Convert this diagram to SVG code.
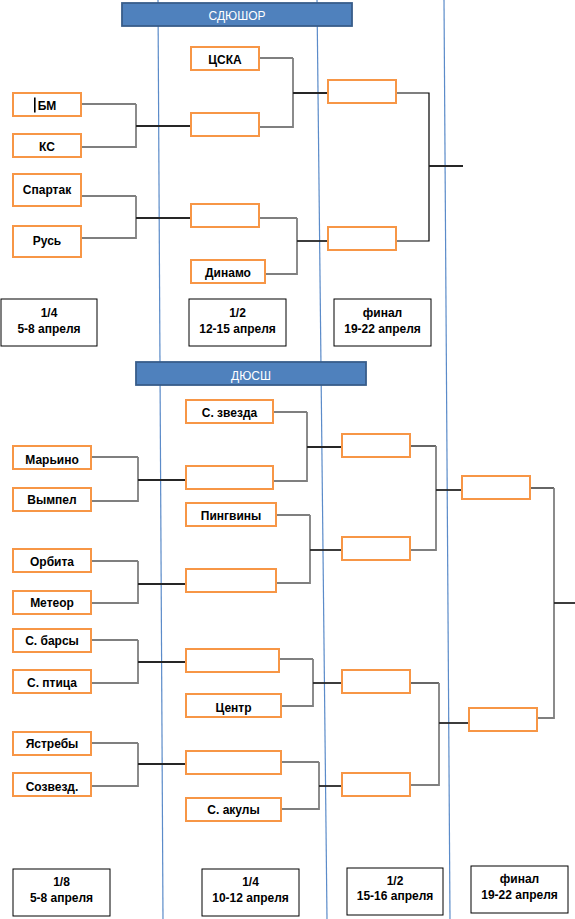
<svg xmlns="http://www.w3.org/2000/svg" width="575" height="919" viewBox="0 0 575 919">
<style>
.bg{fill:#fff}
.guide{stroke:#5b8bc9;stroke-width:1.2;fill:none}
.hdr{fill:#4f81bd;stroke:#385d8a;stroke-width:1.8}
.ht{font-family:"Liberation Sans",Arial,sans-serif;font-size:12px;fill:#fff;text-anchor:middle}
.box{fill:#fff;stroke:#f79646;stroke-width:2}
.lbl{fill:#fff;stroke:#000;stroke-width:1}
.t{font-family:"Liberation Sans",Arial,sans-serif;font-size:12px;font-weight:bold;fill:#000;text-anchor:middle}
.c1{stroke:#000;stroke-width:1.2;fill:none}
.c2{stroke:#7f7f7f;stroke-width:1.8;fill:none}
.c3{stroke:#262626;stroke-width:1.8;fill:none}
</style>
<rect class="bg" x="0" y="0" width="575" height="919"/>
<g id="guides">
<line class="guide" x1="158" y1="0" x2="163" y2="919"/>
<line class="guide" x1="317" y1="0" x2="327" y2="919"/>
<line class="guide" x1="444" y1="0" x2="450" y2="919"/>
</g>
<g id="connectors">
<path class="c1" d="M81,104H136"/><path class="c2" d="M136,104V147H81"/><path class="c3" d="M136,126H191"/>
<path class="c1" d="M259,58H293"/><path class="c2" d="M293,58V127H259"/><path class="c3" d="M293,93H328"/>
<path class="c1" d="M81,196H136"/><path class="c2" d="M136,196V238H81"/><path class="c3" d="M136,218H191"/>
<path class="c1" d="M259,218H297"/><path class="c2" d="M297,218V274H265"/><path class="c3" d="M297,241H328"/>
<path class="c1" d="M396,93H429V241H396"/><path class="c3" d="M429,166H463"/>
<path class="c1" d="M91,457H138"/><path class="c2" d="M138,457V501H91"/><path class="c3" d="M138,480H186"/>
<path class="c1" d="M273,412H307"/><path class="c2" d="M307,412V481H273"/><path class="c3" d="M307,447H342"/>
<path class="c1" d="M276,515H310"/><path class="c2" d="M310,515V583H276"/><path class="c3" d="M310,550H342"/>
<path class="c1" d="M91,561H138"/><path class="c2" d="M138,561V603H91"/><path class="c3" d="M138,584H186"/>
<path class="c1" d="M410,446H436"/><path class="c2" d="M436,446V550H410"/><path class="c3" d="M436,490H462"/>
<path class="c1" d="M530,488H554"/><path class="c2" d="M554,488V718H537"/><path class="c3" d="M554,603H575"/>
<path class="c1" d="M91,640H138"/><path class="c2" d="M138,640V683H91"/><path class="c3" d="M138,662H186"/>
<path class="c1" d="M279,659H313"/><path class="c2" d="M313,659V706H282"/><path class="c3" d="M313,683H342"/>
<path class="c1" d="M410,683H439"/><path class="c2" d="M439,683V785H410"/><path class="c3" d="M439,723H469"/>
<path class="c1" d="M91,743H138"/><path class="c2" d="M138,743V786H91"/><path class="c3" d="M138,764H186"/>
<path class="c1" d="M282,762H319"/><path class="c2" d="M319,762V809H282"/><path class="c3" d="M319,786H342"/>
</g>
<g id="hdr-sdyushor"><rect class="hdr" x="122" y="3" width="230" height="23"/><text class="ht" x="237" y="19.5">СДЮШОР</text></g>
<g id="hdr-dyussh"><rect class="hdr" x="136" y="362" width="230" height="23"/><text class="ht" x="251" y="380">ДЮСШ</text></g>
<g id="n-bm"><rect class="box" x="13" y="93" width="68" height="23"/><text class="t" x="47" y="110">БМ</text><rect x="34" y="97.5" width="1.6" height="15" fill="#000"/></g>
<g id="n-ks"><rect class="box" x="13" y="134" width="68" height="23"/><text class="t" x="47" y="151">КС</text></g>
<g id="n-spartak"><rect class="box" x="13" y="174" width="68" height="32"/><text class="t" x="47" y="194">Спартак</text></g>
<g id="n-rus"><rect class="box" x="13" y="226" width="68" height="31"/><text class="t" x="47" y="245">Русь</text></g>
<g id="n-cska"><rect class="box" x="191" y="47" width="68" height="23"/><text class="t" x="225" y="64">ЦСКА</text></g>
<g id="n-sf1"><rect class="box" x="191" y="113" width="68" height="23"/></g>
<g id="n-sf2"><rect class="box" x="191" y="204" width="68" height="23"/></g>
<g id="n-dinamo"><rect class="box" x="191" y="260" width="74" height="23"/><text class="t" x="228" y="277">Динамо</text></g>
<g id="n-f1"><rect class="box" x="328" y="80" width="68" height="23"/></g>
<g id="n-f2"><rect class="box" x="328" y="227" width="68" height="23"/></g>
<g id="l-top-14"><rect class="lbl" x="1" y="299" width="96" height="47"/><text class="t" x="49" y="316.5">1/4</text><text class="t" x="49" y="332.5">5-8 апреля</text></g>
<g id="l-top-12"><rect class="lbl" x="189" y="299" width="97" height="47"/><text class="t" x="237.5" y="316.5">1/2</text><text class="t" x="237.5" y="332.5">12-15 апреля</text></g>
<g id="l-top-final"><rect class="lbl" x="334" y="299" width="97" height="47"/><text class="t" x="382.5" y="316.5">финал</text><text class="t" x="382.5" y="332.5">19-22 апреля</text></g>
<g id="n-zvezda"><rect class="box" x="186" y="400" width="87" height="23"/><text class="t" x="229.5" y="417">С. звезда</text></g>
<g id="n-marino"><rect class="box" x="13" y="446" width="78" height="23"/><text class="t" x="52" y="464">Марьино</text></g>
<g id="n-vympel"><rect class="box" x="13" y="488" width="78" height="23"/><text class="t" x="52" y="504">Вымпел</text></g>
<g id="n-q1"><rect class="box" x="186" y="466" width="87" height="23"/></g>
<g id="n-pingviny"><rect class="box" x="186" y="503" width="90" height="23"/><text class="t" x="231" y="520">Пингвины</text></g>
<g id="n-orbita"><rect class="box" x="13" y="549" width="78" height="23"/><text class="t" x="52" y="566">Орбита</text></g>
<g id="n-meteor"><rect class="box" x="13" y="591" width="78" height="23"/><text class="t" x="52" y="607">Метеор</text></g>
<g id="n-q2"><rect class="box" x="186" y="569" width="90" height="23"/></g>
<g id="n-barsy"><rect class="box" x="13" y="629" width="78" height="23"/><text class="t" x="52" y="645">С. барсы</text></g>
<g id="n-ptica"><rect class="box" x="13" y="670" width="78" height="23"/><text class="t" x="52" y="687">С. птица</text></g>
<g id="n-q3"><rect class="box" x="186" y="649" width="93" height="23"/></g>
<g id="n-centr"><rect class="box" x="186" y="694" width="95" height="23"/><text class="t" x="233.5" y="711.5">Центр</text></g>
<g id="n-yastreby"><rect class="box" x="13" y="732" width="78" height="23"/><text class="t" x="52" y="748">Ястребы</text></g>
<g id="n-sozvezd"><rect class="box" x="13" y="773" width="78" height="23"/><text class="t" x="52" y="790.5">Созвезд.</text></g>
<g id="n-q4"><rect class="box" x="186" y="751" width="95" height="23"/></g>
<g id="n-akuly"><rect class="box" x="186" y="798" width="95" height="23"/><text class="t" x="233.5" y="814">С. акулы</text></g>
<g id="n-s1"><rect class="box" x="342" y="434" width="68" height="23"/></g>
<g id="n-s2"><rect class="box" x="342" y="537" width="68" height="23"/></g>
<g id="n-s3"><rect class="box" x="342" y="670" width="68" height="23"/></g>
<g id="n-s4"><rect class="box" x="342" y="773" width="68" height="23"/></g>
<g id="n-fin1"><rect class="box" x="462" y="476" width="68" height="23"/></g>
<g id="n-fin2"><rect class="box" x="469" y="708" width="68" height="23"/></g>
<g id="l-bot-18"><rect class="lbl" x="13" y="869" width="97" height="47"/><text class="t" x="61.5" y="885.5">1/8</text><text class="t" x="61.5" y="901.5">5-8 апреля</text></g>
<g id="l-bot-14"><rect class="lbl" x="202" y="869" width="97" height="47"/><text class="t" x="250.5" y="885.5">1/4</text><text class="t" x="250.5" y="901.5">10-12 апреля</text></g>
<g id="l-bot-12"><rect class="lbl" x="347" y="868" width="96" height="47"/><text class="t" x="395" y="884.5">1/2</text><text class="t" x="395" y="900">15-16 апреля</text></g>
<g id="l-bot-final"><rect class="lbl" x="471" y="866" width="97" height="47"/><text class="t" x="519.5" y="882.5">финал</text><text class="t" x="519.5" y="898.5">19-22 апреля</text></g>
</svg>
